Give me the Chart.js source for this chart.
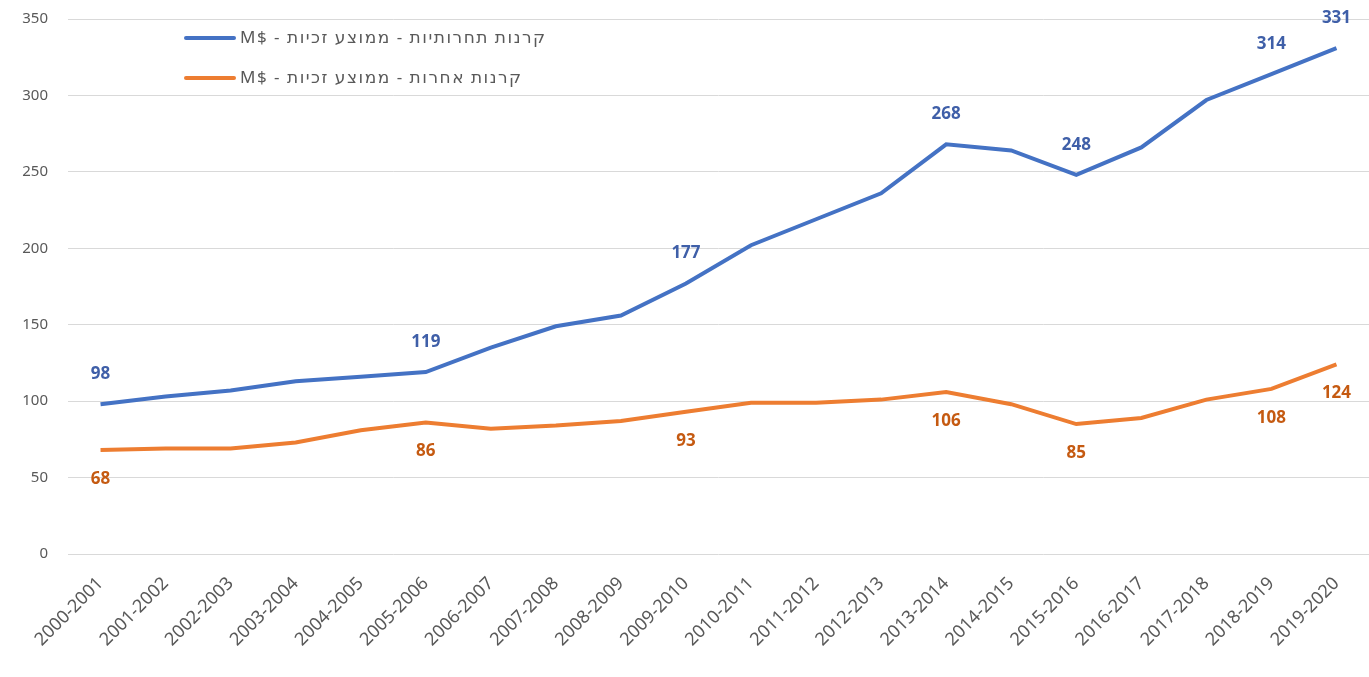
<!DOCTYPE html>
<html>
<head>
<meta charset="utf-8">
<script src="https://cdn.jsdelivr.net/npm/chart.js@4"></script>
<style>
  html, body { margin: 0; padding: 0; background: #fff; }
  #wrap { width: 1369px; height: 677px; }
</style>
</head>
<body>
<div id="wrap"><canvas id="lineChart"></canvas></div>
<script>
const seasons = [
  "2000-2001", "2001-2002", "2002-2003", "2003-2004", "2004-2005",
  "2005-2006", "2006-2007", "2007-2008", "2008-2009", "2009-2010",
  "2010-2011", "2011-2012", "2012-2013", "2013-2014", "2014-2015",
  "2015-2016", "2016-2017", "2017-2018", "2018-2019", "2019-2020"
];
const competitiveFunds = [98, 103, 107, 113, 116, 119, 135, 149, 156, 177, 202, 219, 236, 268, 264, 248, 266, 297, 314, 331];
const otherFunds = [68, 69, 69, 73, 81, 86, 82, 84, 87, 93, 99, 99, 101, 106, 98, 85, 89, 101, 108, 124];
// which points carry a value label
const labelledPoints = [0, 5, 9, 13, 15, 18, 19];
// \u200E keeps "M$" in that order inside the RTL text
const competitiveName = "קרנות תחרותיות - ממוצע זכיות - M$\u200E";
const otherName = "קרנות אחרות - ממוצע זכיות - M$\u200E";

const FONT = "'Noto Sans', 'DejaVu Sans', sans-serif";

// value labels above the blue line, below the orange one
const valueLabels = {
  id: "valueLabels",
  afterDatasetsDraw(chart) {
    const ctx = chart.ctx;
    ctx.save();
    ctx.font = "bold 17px " + FONT;
    ctx.textAlign = "center";
    ctx.textBaseline = "middle";
    chart.data.datasets.forEach((ds, i) => {
      const meta = chart.getDatasetMeta(i);
      ctx.fillStyle = ds.labelColor;
      labelledPoints.forEach((idx) => {
        const pt = meta.data[idx];
        ctx.fillText(ds.data[idx], pt.x, pt.y + ds.labelShift);
      });
    });
    ctx.restore();
  }
};

// legend sits inside the plot, top left
const insideLegend = {
  id: "insideLegend",
  afterDraw(chart) {
    const ctx = chart.ctx;
    ctx.save();
    ctx.font = "17px " + FONT;
    ctx.letterSpacing = "1.5px";
    ctx.textBaseline = "middle";
    chart.data.datasets.forEach((ds, i) => {
      const y = 38 + i * 40;
      ctx.strokeStyle = ds.borderColor;
      ctx.lineWidth = 4;
      ctx.lineCap = "round";
      ctx.beginPath();
      ctx.moveTo(186, y);
      ctx.lineTo(234, y);
      ctx.stroke();
      ctx.fillStyle = "#595959";
      ctx.direction = "rtl";
      ctx.textAlign = "left";
      ctx.fillText(ds.label, 240, y);
    });
    ctx.restore();
  }
};

const ctx = document.getElementById("lineChart").getContext("2d");

new Chart(ctx, {
  type: "line",
  data: {
    labels: seasons,
    datasets: [{
      label: competitiveName,
      data: competitiveFunds,
      borderColor: "#4472c4",
      labelColor: "#3f5fa8",
      labelShift: -30,
      borderWidth: 4,
      pointRadius: 0,
      tension: 0
    }, {
      label: otherName,
      data: otherFunds,
      borderColor: "#ed7d31",
      labelColor: "#c55a11",
      labelShift: 29,
      borderWidth: 4,
      pointRadius: 0,
      tension: 0
    }]
  },
  options: {
    responsive: true,
    maintainAspectRatio: false,
    animation: false,
    layout: { padding: { top: 19, left: 0, right: 0, bottom: 0 } },
    plugins: {
      legend: { display: false },
      tooltip: { enabled: false }
    },
    scales: {
      x: {
        offset: true,
        grid: { display: false },
        border: { display: false },
        ticks: {
          color: "#595959",
          font: { family: FONT, size: 18 },
          maxRotation: 45,
          minRotation: 45,
          autoSkip: false,
          padding: 11
        },
        afterFit(scale) { scale.height = 123; }
      },
      y: {
        min: 0,
        max: 350,
        grid: { color: "#d9d9d9", lineWidth: 1, drawTicks: false },
        border: { display: false },
        ticks: {
          stepSize: 50,
          color: "#595959",
          font: { family: FONT, size: 15 },
          padding: 20
        },
        afterFit(scale) {
          scale.width = 68;
          // tick padding should not push the plot down
          scale.paddingTop = 0;
          scale.paddingBottom = 0;
        }
      }
    }
  },
  plugins: [valueLabels, insideLegend]
});
</script>
</body>
</html>
